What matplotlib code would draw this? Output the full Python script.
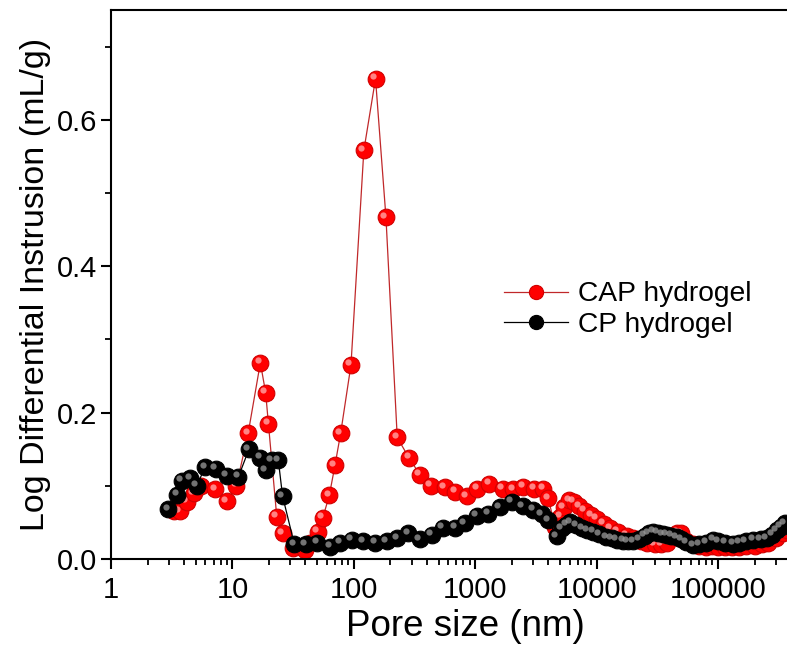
import matplotlib
matplotlib.use("Agg")
import matplotlib.pyplot as plt
import matplotlib.transforms as mtransforms
from matplotlib.ticker import LogLocator, FixedLocator, NullFormatter

plt.rcParams['font.family'] = ['Liberation Sans', 'DejaVu Sans']

# CAP hydrogel (red)
cap_x = [3.3, 3.7, 4.2, 4.8, 5.5, 7.2, 9.0, 10.8, 13.5, 17.0, 18.8, 19.8, 23.2, 26, 31.5,
         39.6, 44, 50.7, 55.5, 62.9, 70, 78, 94.8, 121, 151, 184, 228, 285, 351, 430, 564,
         682, 851, 1040, 1306, 1683, 2059, 2490, 3068, 3640, 4000, 4540, 5000, 5386, 5960,
         6500, 7200, 8000, 9000, 10000, 11500, 13000, 15000, 17700, 20000, 23000, 26000,
         30000, 34000, 38000, 42000, 46000, 50000, 55000, 62000, 70000, 80000, 90000,
         100000, 115000, 130000, 150000, 170000, 200000, 230000, 260000, 300000, 340000, 370000]
cap_y = [0.066, 0.065, 0.078, 0.090, 0.100, 0.095, 0.079, 0.100, 0.172, 0.268, 0.227, 0.185,
         0.058, 0.035, 0.015, 0.012, 0.022, 0.037, 0.056, 0.087, 0.128, 0.172, 0.265, 0.558,
         0.656, 0.467, 0.166, 0.138, 0.115, 0.100, 0.098, 0.092, 0.086, 0.096, 0.103, 0.096,
         0.095, 0.099, 0.096, 0.096, 0.083, 0.044, 0.058, 0.071, 0.080, 0.078, 0.072, 0.066,
         0.060, 0.055, 0.048, 0.042, 0.037, 0.032, 0.028, 0.025, 0.022, 0.020, 0.020, 0.022,
         0.032, 0.036, 0.035, 0.025, 0.020, 0.018, 0.017, 0.018, 0.017, 0.016, 0.016, 0.017,
         0.018, 0.018, 0.020, 0.022, 0.028, 0.035, 0.040]

# CP hydrogel (black)
cp_x = [2.97, 3.52, 3.82, 4.48, 5.08, 5.95, 7.33, 8.98, 11.2, 13.7, 16.9, 18.8, 21.1, 23.9,
        25.9, 32.4, 40.4, 50, 63.7, 77, 96, 120, 150, 187, 228, 281, 351, 438, 540, 682, 824,
        1028, 1282, 1600, 2000, 2460, 3010, 3530, 4000, 4690, 5150, 5600, 6040, 6800, 7600,
        8400, 9400, 10500, 12000, 13300, 14650, 16500, 18000, 20100, 22500, 25000, 27000,
        29300, 32000, 35000, 37800, 41000, 45700, 50000, 55000, 62600, 70000, 80000, 91400,
        100000, 115000, 133600, 150000, 170000, 195000, 225000, 252000, 280000, 304000,
        330000, 356000]
cp_y = [0.068, 0.088, 0.107, 0.110, 0.100, 0.125, 0.123, 0.114, 0.112, 0.150, 0.138, 0.121,
        0.135, 0.135, 0.086, 0.020, 0.020, 0.022, 0.017, 0.022, 0.026, 0.024, 0.022, 0.024,
        0.028, 0.035, 0.027, 0.033, 0.043, 0.043, 0.049, 0.059, 0.062, 0.071, 0.078, 0.072,
        0.067, 0.061, 0.053, 0.031, 0.042, 0.047, 0.050, 0.046, 0.042, 0.039, 0.037, 0.034,
        0.030, 0.028, 0.026, 0.025, 0.024, 0.024, 0.027, 0.032, 0.035, 0.037, 0.036, 0.034,
        0.033, 0.032, 0.030, 0.027, 0.023, 0.019, 0.020, 0.022, 0.026, 0.024, 0.022, 0.021,
        0.022, 0.024, 0.026, 0.027, 0.028, 0.033, 0.039, 0.044, 0.049]

fig = plt.figure(figsize=(7.87, 6.49), dpi=100)
ax = fig.add_axes([0.141, 0.1387, 0.859, 0.846])


def sphere(x, y, base, edge, shine, line, label):
    ax.plot(x, y, '-', color=line, lw=0.9, marker='o', ms=12, mfc=base, mec=edge,
            mew=0.8, label=label)
    # little highlight to imitate the shaded balls
    tr = mtransforms.offset_copy(ax.transData, fig=fig, x=-1.8, y=1.8, units='points')
    ax.plot(x, y, 'o', ms=4.5, color=shine, mec='none', alpha=0.75, transform=tr)


sphere(cap_x, cap_y, '#ff0000', '#d00000', '#ffb0b0', '#c0282a', 'CAP hydrogel')
sphere(cp_x, cp_y, '#000000', '#000000', '#9a9a9a', '#000000', 'CP hydrogel')

ax.set_xscale('log')
ax.set_xlim(1, 3.7e5)
ax.set_ylim(0, 0.75)

ax.xaxis.set_major_locator(FixedLocator([1, 10, 100, 1000, 10000, 100000]))
ax.set_xticklabels(['1', '10', '100', '1000', '10000', '100000'])
ax.xaxis.set_minor_locator(LogLocator(base=10, subs=range(2, 10), numticks=20))
ax.xaxis.set_minor_formatter(NullFormatter())
ax.set_yticks([0.0, 0.2, 0.4, 0.6])
ax.set_yticklabels(['0.0', '0.2', '0.4', '0.6'])
ax.set_yticks([0.1, 0.3, 0.5, 0.7], minor=True)

ax.tick_params(which='major', direction='out', length=7, width=1.5, labelsize=21)
ax.tick_params(axis='x', which='major', pad=5)
ax.tick_params(axis='y', which='major', pad=3)
ax.tick_params(which='minor', direction='out', length=4, width=1.3)
for s in ['left', 'bottom', 'top']:
    ax.spines[s].set_linewidth(1.5)
ax.spines['right'].set_visible(False)

# the original axes ran past the right edge, so the label sits right of centre
ax.set_xlabel('Pore size (nm)', fontsize=26.5, labelpad=4, x=0.524)
ax.set_ylabel('Log Differential Instrusion (mL/g)', fontsize=24.5, labelpad=4)

leg = ax.legend(loc='upper left', bbox_to_anchor=(0.622, 0.588), bbox_transform=fig.transFigure,
                frameon=False, fontsize=20.3, handlelength=2.3, handletextpad=0.35,
                labelspacing=0.15, borderpad=0, markerscale=0.85)

fig.savefig('out.png', dpi=100)
